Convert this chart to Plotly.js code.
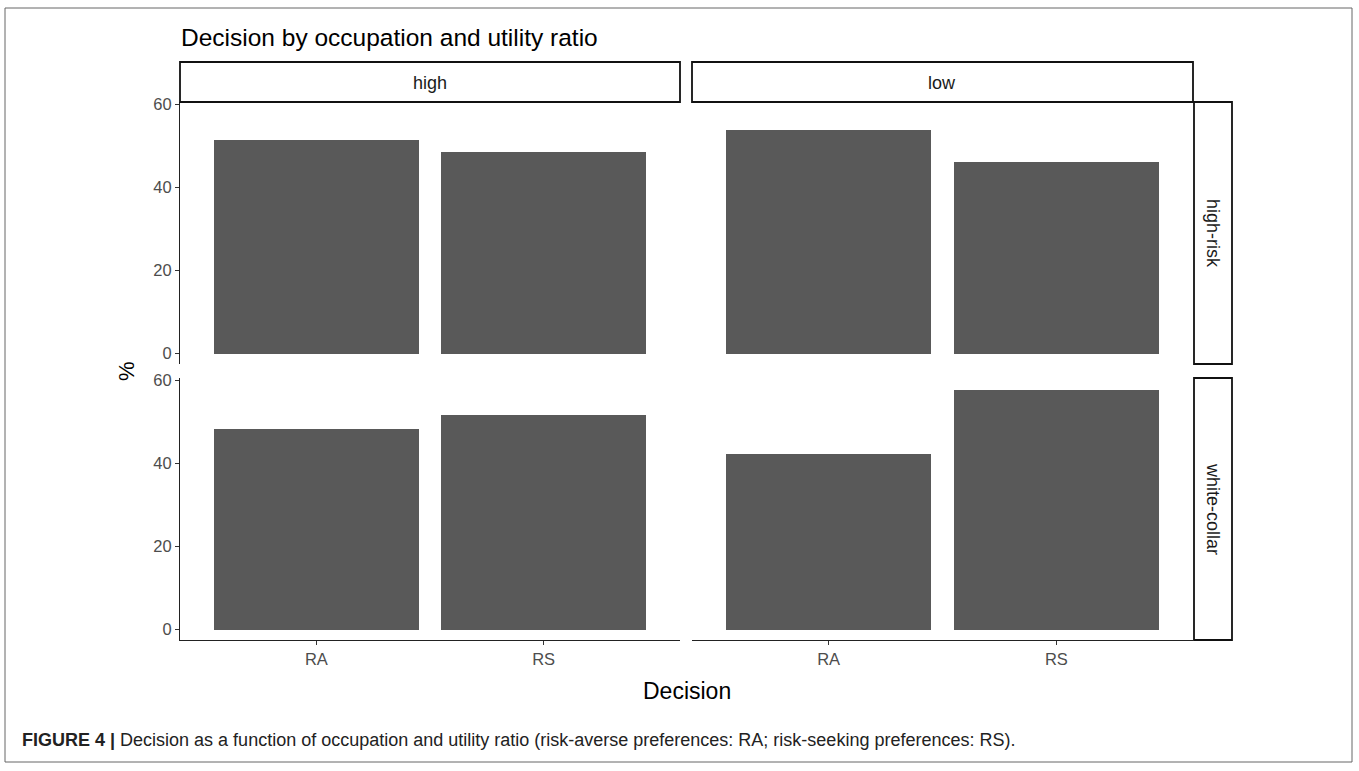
<!DOCTYPE html>
<html>
<head>
<meta charset="utf-8">
<script src="https://cdn.plot.ly/plotly-3.0.1.min.js"></script>
<style>html,body{margin:0;padding:0;background:#fff;}#chart{width:1359px;height:771px;}</style>
</head>
<body>
<div id="chart"></div>
<script>
// Data
const decisions = ["RA", "RS"];
const ratios = ["high", "low"];
const occupations = ["high-risk", "white-collar"];
const highRiskHigh = [51.5, 48.5];
const highRiskLow = [53.8, 46.2];
const whiteCollarHigh = [48.4, 51.6];
const whiteCollarLow = [42.4, 57.6];
const yTicks = [0, 20, 40, 60];

const W = 1359, H = 771;
const px = v => v / W;
const py = v => (H - v) / H;

const barColor = "#595959";
const FONT = "Liberation Sans, Arial, sans-serif";

const panels = [
  {vals: highRiskHigh, x: "x", y: "y"},
  {vals: highRiskLow, x: "x2", y: "y2"},
  {vals: whiteCollarHigh, x: "x3", y: "y3"},
  {vals: whiteCollarLow, x: "x4", y: "y4"}
];

const traces = panels.map(p => ({
  type: "bar", x: decisions, y: p.vals, xaxis: p.x, yaxis: p.y,
  width: 0.9, marker: {color: barColor, line: {width: 0}},
  hoverinfo: "x+y", showlegend: false
}));

const colL = [px(180), px(680)];
const colR = [px(692), px(1193)];
const rowT = [py(364), py(102)];
const rowB = [py(640), py(378)];
const yRange = [-2.5, 60.6];
const xRange = [-0.6, 1.6];

const tickFont = {family: FONT, size: 16.5, color: "#4d4d4d"};

function xax(domain, anchor, showLine) {
  return {
    domain: domain, anchor: anchor, range: xRange, type: "category",
    categoryarray: decisions, categoryorder: "array",
    showline: showLine, linecolor: "#222", linewidth: 1,
    ticks: showLine ? "outside" : "", ticklen: 4, tickcolor: "#333", tickwidth: 1,
    showticklabels: showLine, tickfont: tickFont,
    showgrid: false, zeroline: false, fixedrange: true
  };
}
function yax(domain, anchor, showLine) {
  return {
    domain: domain, anchor: anchor, range: yRange,
    tickvals: yTicks, ticktext: yTicks.map(String),
    showline: showLine, linecolor: "#222", linewidth: 1,
    ticks: showLine ? "outside" : "", ticklen: 4, tickcolor: "#333", tickwidth: 1,
    showticklabels: showLine, tickfont: tickFont,
    showgrid: false, zeroline: false, fixedrange: true
  };
}

const shapes = [];
const annotations = [];

// outer frame
shapes.push({type: "rect", xref: "paper", yref: "paper",
  x0: px(5), x1: px(1352), y0: py(762), y1: py(8),
  line: {color: "#666", width: 1}, fillcolor: "rgba(0,0,0,0)"});

// top strips
[[colL, ratios[0]], [colR, ratios[1]]].forEach(([c, label]) => {
  shapes.push({type: "rect", xref: "paper", yref: "paper",
    x0: c[0], x1: c[1], y0: py(102), y1: py(62),
    line: {color: "#111", width: 1.8}, fillcolor: "#fff"});
  annotations.push({xref: "paper", yref: "paper", x: (c[0] + c[1]) / 2, y: py(83),
    text: label, showarrow: false, xanchor: "center", yanchor: "middle",
    font: {family: FONT, size: 18, color: "#1a1a1a"}});
});
// right strips
[[[364, 102], occupations[0]], [[640, 378], occupations[1]]].forEach(([r, label]) => {
  shapes.push({type: "rect", xref: "paper", yref: "paper",
    x0: px(1194), x1: px(1232), y0: py(r[0]), y1: py(r[1]),
    line: {color: "#111", width: 1.8}, fillcolor: "#fff"});
  annotations.push({xref: "paper", yref: "paper", x: px(1213), y: py((r[0] + r[1]) / 2),
    text: label, showarrow: false, xanchor: "center", yanchor: "middle", textangle: 90,
    font: {family: FONT, size: 18, color: "#1a1a1a"}});
});

// title
annotations.push({xref: "paper", yref: "paper", x: px(179), y: py(37),
  text: "Decision by occupation and utility ratio", showarrow: false,
  xanchor: "left", yanchor: "middle",
  font: {family: FONT, size: 24.5, color: "#000"}});
// axis titles
annotations.push({xref: "paper", yref: "paper", x: px(687), y: py(691),
  text: "Decision", showarrow: false, xanchor: "center", yanchor: "middle",
  font: {family: FONT, size: 23, color: "#000"}});
annotations.push({xref: "paper", yref: "paper", x: px(127), y: py(371),
  text: "%", showarrow: false, xanchor: "center", yanchor: "middle", textangle: -90,
  font: {family: FONT, size: 22, color: "#000"}});
// caption
annotations.push({xref: "paper", yref: "paper", x: px(20), y: py(740),
  text: "<b>FIGURE 4 |</b> Decision as a function of occupation and utility ratio (risk-averse preferences: RA; risk-seeking preferences: RS).",
  showarrow: false, xanchor: "left", yanchor: "middle",
  font: {family: FONT, size: 18, color: "#222"}});

const layout = {
  width: W, height: H, margin: {l: 0, r: 0, t: 0, b: 0},
  paper_bgcolor: "#fff", plot_bgcolor: "#fff",
  showlegend: false, bargap: 0,
  xaxis: xax(colL, "y", false),
  yaxis: yax(rowT, "x", true),
  xaxis2: xax(colR, "y2", false),
  yaxis2: yax(rowT, "x2", false),
  xaxis3: xax(colL, "y3", true),
  yaxis3: yax(rowB, "x3", true),
  xaxis4: xax(colR, "y4", true),
  yaxis4: yax(rowB, "x4", false),
  shapes: shapes, annotations: annotations
};

Plotly.newPlot("chart", traces, layout, {displayModeBar: false, staticPlot: true});
</script>
</body>
</html>
